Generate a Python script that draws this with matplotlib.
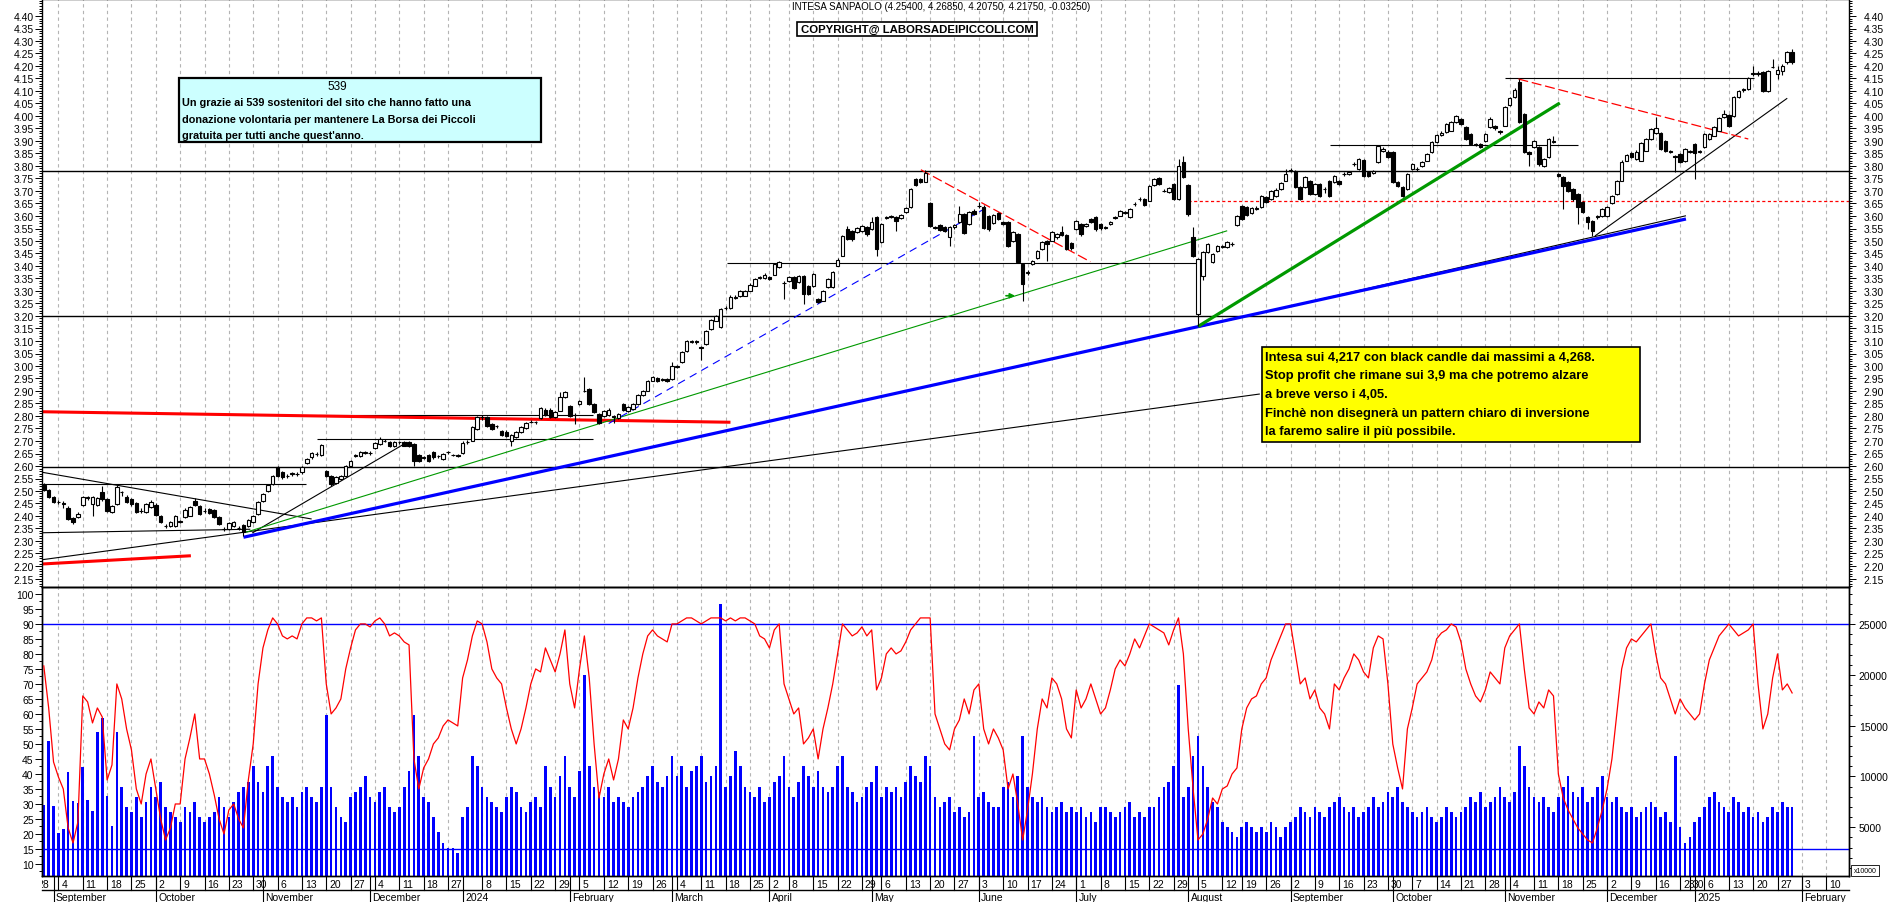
import numpy as np
import pandas as pd
import matplotlib
matplotlib.use("Agg")
import matplotlib.pyplot as plt
import matplotlib.transforms as mtrans
from matplotlib.patches import Rectangle

plt.rcParams['font.family'] = ['Liberation Sans', 'DejaVu Sans']

W, H, DPI = 1890, 903, 100

# ---------------- calendar (Borsa Italiana trading days) ----------------
holidays = pd.to_datetime(["2023-12-25", "2023-12-26", "2024-01-01", "2024-03-29", "2024-04-01",
                           "2024-05-01", "2024-08-15", "2024-12-24", "2024-12-25", "2024-12-26",
                           "2024-12-31", "2025-01-01"])
cal = pd.bdate_range("2023-08-21", "2025-02-28")
cal = cal[~cal.isin(holidays)]
i_anchor = cal.get_loc(pd.Timestamp("2023-09-04"))
cal_idx = np.arange(len(cal)) - i_anchor

# ---------------- price data (30 Aug 2023 .. 30 Jan 2025) ----------------
opens = [2.525, 2.504, 2.475,
 2.456, 2.45, 2.432, 2.392, 2.395, 2.444, 2.472, 2.448, 2.445, 2.495,
 2.468, 2.415, 2.448, 2.497, 2.477, 2.468, 2.452, 2.42, 2.415, 2.435,
 2.445, 2.401, 2.362, 2.361, 2.361, 2.378, 2.395, 2.401, 2.461, 2.441,
 2.42, 2.428, 2.424, 2.395, 2.35, 2.348, 2.361, 2.353, 2.364, 2.361,
 2.375, 2.408, 2.461, 2.499, 2.528, 2.595, 2.577, 2.56, 2.57, 2.569,
 2.575, 2.612, 2.635, 2.647, 2.644, 2.581, 2.561, 2.532, 2.548, 2.561,
 2.599, 2.642, 2.641, 2.654, 2.653, 2.671, 2.688, 2.70, 2.697, 2.679,
 2.694, 2.695, 2.695, 2.688, 2.644, 2.634, 2.644, 2.657, 2.64, 2.628,
 2.656, 2.645, 2.642, 2.652, 2.694, 2.701, 2.748, 2.794, 2.795, 2.768,
 2.76, 2.741, 2.737, 2.701, 2.715, 2.735, 2.751, 2.776, 2.774, 2.791,
 2.825, 2.825, 2.795, 2.821, 2.875, 2.839, 2.805, 2.848, 2.90, 2.908,
 2.848, 2.808, 2.799, 2.804, 2.80, 2.791, 2.848, 2.821, 2.828, 2.848,
 2.884, 2.901, 2.941, 2.951, 2.946, 2.948, 2.948, 2.998, 3.017, 3.061,
 3.098, 3.099, 3.075, 3.088, 3.148, 3.181, 3.155, 3.231, 3.232, 3.274,
 3.279, 3.281, 3.301, 3.321, 3.354, 3.352, 3.355, 3.365, 3.395, 3.333,
 3.341, 3.355, 3.335, 3.361, 3.321, 3.319, 3.268, 3.261, 3.315, 3.315,
 3.401, 3.441, 3.548, 3.541, 3.537, 3.541, 3.557, 3.548, 3.595, 3.495,
 3.594, 3.598, 3.595, 3.591, 3.615, 3.635, 3.748, 3.748, 3.737, 3.651,
 3.554, 3.564, 3.555, 3.515, 3.555, 3.577, 3.608, 3.568, 3.621, 3.64,
 3.637, 3.601, 3.572, 3.611, 3.575, 3.575, 3.501, 3.528, 3.408, 3.374,
 3.408, 3.431, 3.468, 3.501, 3.501, 3.515, 3.537, 3.524, 3.491, 3.548,
 3.568, 3.559, 3.588, 3.595, 3.568, 3.554, 3.568, 3.594, 3.601, 3.614,
 3.595, 3.647, 3.667, 3.668, 3.661, 3.724, 3.751, 3.70, 3.697, 3.728,
 3.668, 3.815, 3.724, 3.515, 3.208, 3.361, 3.455, 3.415, 3.461, 3.477,
 3.475, 3.487, 3.564, 3.639, 3.635, 3.612, 3.63, 3.635, 3.675, 3.668,
 3.68, 3.708, 3.741, 3.781, 3.781, 3.715, 3.715, 3.741, 3.688, 3.728,
 3.707, 3.741, 3.735, 3.741, 3.767, 3.768, 3.807, 3.788, 3.824, 3.775,
 3.772, 3.815, 3.861, 3.857, 3.855, 3.735, 3.715, 3.708, 3.788, 3.787,
 3.801, 3.821, 3.855, 3.895, 3.924, 3.935, 3.941, 3.975, 3.988, 3.955,
 3.928, 3.888, 3.888, 3.901, 3.955, 3.961, 3.941, 3.961, 4.044, 4.075,
 4.135, 4.008, 3.855, 3.875, 3.875, 3.801, 3.835, 3.897, 3.768, 3.755,
 3.735, 3.708, 3.688, 3.655, 3.595, 3.581, 3.601, 3.601, 3.601, 3.652,
 3.688, 3.741, 3.821, 3.852, 3.828, 3.821, 3.861, 3.908, 3.932, 3.932,
 3.901, 3.858, 3.839, 3.848, 3.821, 3.857, 3.888, 3.857, 3.875, 3.908,
 3.921, 3.941, 3.995, 4.004, 4.001, 4.075, 4.104, 4.108, 4.169, 4.17,
 4.175, 4.101, 4.196, 4.168, 4.181, 4.215, 4.254]

closes = [2.505, 2.475, 2.455,
 2.455, 2.448, 2.388, 2.377, 2.41, 2.477, 2.475, 2.475, 2.47, 2.468,
 2.421, 2.441, 2.515, 2.495, 2.455, 2.448, 2.415, 2.421, 2.448, 2.457,
 2.405, 2.375, 2.36, 2.377, 2.401, 2.377, 2.424, 2.435, 2.444, 2.408,
 2.421, 2.412, 2.395, 2.368, 2.348, 2.371, 2.377, 2.352, 2.335, 2.384,
 2.401, 2.457, 2.488, 2.525, 2.561, 2.561, 2.555, 2.561, 2.571, 2.568,
 2.597, 2.628, 2.652, 2.648, 2.684, 2.561, 2.528, 2.555, 2.561, 2.601,
 2.621, 2.645, 2.655, 2.655, 2.652, 2.691, 2.708, 2.701, 2.679, 2.695,
 2.695, 2.681, 2.679, 2.621, 2.621, 2.635, 2.621, 2.635, 2.639, 2.648,
 2.657, 2.644, 2.641, 2.692, 2.695, 2.755, 2.795, 2.795, 2.761, 2.748,
 2.759, 2.724, 2.721, 2.724, 2.735, 2.755, 2.771, 2.777, 2.775, 2.831,
 2.804, 2.795, 2.815, 2.875, 2.895, 2.801, 2.804, 2.861, 2.901, 2.848,
 2.815, 2.772, 2.821, 2.825, 2.795, 2.808, 2.825, 2.835, 2.848, 2.884,
 2.901, 2.941, 2.955, 2.941, 2.945, 2.941, 3.001, 2.999, 3.057, 3.101,
 3.099, 3.098, 3.074, 3.141, 3.184, 3.201, 3.228, 3.232, 3.277, 3.275,
 3.301, 3.301, 3.325, 3.348, 3.355, 3.365, 3.348, 3.408, 3.415, 3.332,
 3.355, 3.312, 3.361, 3.288, 3.288, 3.368, 3.255, 3.301, 3.348, 3.377,
 3.425, 3.521, 3.508, 3.508, 3.551, 3.561, 3.528, 3.575, 3.468, 3.568,
 3.595, 3.599, 3.581, 3.604, 3.631, 3.708, 3.724, 3.735, 3.772, 3.561,
 3.555, 3.545, 3.541, 3.555, 3.564, 3.608, 3.532, 3.615, 3.608, 3.641,
 3.552, 3.548, 3.604, 3.588, 3.568, 3.481, 3.537, 3.415, 3.328, 3.375,
 3.421, 3.461, 3.495, 3.488, 3.535, 3.528, 3.524, 3.468, 3.471, 3.581,
 3.528, 3.568, 3.575, 3.548, 3.551, 3.555, 3.575, 3.595, 3.621, 3.615,
 3.628, 3.648, 3.668, 3.644, 3.721, 3.748, 3.728, 3.701, 3.711, 3.668,
 3.799, 3.755, 3.608, 3.441, 3.428, 3.455, 3.488, 3.448, 3.481, 3.478,
 3.495, 3.488, 3.601, 3.588, 3.604, 3.631, 3.631, 3.679, 3.657, 3.701,
 3.705, 3.732, 3.768, 3.782, 3.715, 3.668, 3.755, 3.688, 3.728, 3.681,
 3.708, 3.681, 3.761, 3.728, 3.768, 3.775, 3.808, 3.828, 3.761, 3.761,
 3.781, 3.881, 3.868, 3.835, 3.735, 3.721, 3.681, 3.768, 3.808, 3.788,
 3.815, 3.848, 3.895, 3.924, 3.932, 3.968, 3.975, 4.001, 3.968, 3.908,
 3.888, 3.884, 3.875, 3.928, 3.988, 3.951, 3.935, 4.035, 4.071, 4.105,
 3.975, 3.857, 3.848, 3.901, 3.808, 3.828, 3.908, 3.898, 3.761, 3.721,
 3.701, 3.668, 3.635, 3.615, 3.575, 3.541, 3.595, 3.628, 3.635, 3.681,
 3.741, 3.817, 3.844, 3.835, 3.857, 3.892, 3.908, 3.948, 3.951, 3.868,
 3.861, 3.857, 3.838, 3.817, 3.868, 3.858, 3.852, 3.858, 3.928, 3.928,
 3.955, 3.991, 4.008, 3.961, 4.075, 4.101, 4.108, 4.151, 4.171, 4.171,
 4.101, 4.181, 4.197, 4.184, 4.199, 4.255, 4.2175]

highs = [2.532, 2.51, 2.48,
 2.462, 2.458, 2.44, 2.395, 2.415, 2.48, 2.48, 2.478, 2.475, 2.52,
 2.47, 2.445, 2.524, 2.50, 2.482, 2.472, 2.455, 2.43, 2.452, 2.462,
 2.45, 2.405, 2.368, 2.38, 2.405, 2.385, 2.43, 2.44, 2.47, 2.445,
 2.43, 2.432, 2.428, 2.40, 2.356, 2.375, 2.38, 2.36, 2.368, 2.388,
 2.405, 2.46, 2.492, 2.53, 2.565, 2.601, 2.582, 2.568, 2.578, 2.575,
 2.60, 2.632, 2.656, 2.655, 2.688, 2.585, 2.565, 2.56, 2.565, 2.605,
 2.625, 2.65, 2.66, 2.662, 2.66, 2.695, 2.715, 2.708, 2.70, 2.70,
 2.70, 2.70, 2.70, 2.692, 2.648, 2.642, 2.65, 2.662, 2.645, 2.652,
 2.662, 2.65, 2.648, 2.698, 2.702, 2.76, 2.80, 2.803, 2.80, 2.772,
 2.765, 2.745, 2.742, 2.728, 2.74, 2.76, 2.775, 2.782, 2.78, 2.835,
 2.83, 2.83, 2.82, 2.895, 2.90, 2.845, 2.81, 2.865, 2.955, 2.912,
 2.852, 2.812, 2.825, 2.83, 2.805, 2.812, 2.852, 2.84, 2.852, 2.888,
 2.905, 2.945, 2.96, 2.955, 2.95, 2.952, 3.018, 3.005, 3.062, 3.105,
 3.105, 3.104, 3.08, 3.145, 3.188, 3.205, 3.232, 3.238, 3.282, 3.282,
 3.305, 3.305, 3.33, 3.352, 3.36, 3.37, 3.36, 3.412, 3.421, 3.34,
 3.36, 3.36, 3.365, 3.365, 3.325, 3.372, 3.272, 3.305, 3.352, 3.38,
 3.43, 3.525, 3.561, 3.545, 3.555, 3.565, 3.56, 3.595, 3.60, 3.572,
 3.60, 3.605, 3.60, 3.608, 3.635, 3.712, 3.752, 3.752, 3.784, 3.655,
 3.56, 3.568, 3.56, 3.56, 3.568, 3.641, 3.612, 3.62, 3.628, 3.655,
 3.642, 3.605, 3.608, 3.615, 3.58, 3.58, 3.542, 3.532, 3.412, 3.385,
 3.425, 3.465, 3.50, 3.505, 3.54, 3.532, 3.559, 3.528, 3.495, 3.585,
 3.572, 3.572, 3.592, 3.60, 3.572, 3.56, 3.58, 3.60, 3.625, 3.62,
 3.632, 3.655, 3.675, 3.672, 3.725, 3.752, 3.755, 3.708, 3.715, 3.732,
 3.828, 3.841, 3.728, 3.555, 3.432, 3.46, 3.492, 3.452, 3.485, 3.485,
 3.50, 3.495, 3.605, 3.645, 3.64, 3.635, 3.638, 3.683, 3.68, 3.705,
 3.71, 3.736, 3.788, 3.79, 3.785, 3.72, 3.76, 3.745, 3.732, 3.732,
 3.715, 3.745, 3.765, 3.745, 3.775, 3.78, 3.815, 3.832, 3.828, 3.78,
 3.785, 3.885, 3.875, 3.862, 3.86, 3.74, 3.72, 3.772, 3.812, 3.795,
 3.82, 3.852, 3.90, 3.928, 3.938, 3.972, 3.98, 4.005, 3.992, 3.96,
 3.932, 3.89, 3.892, 3.932, 3.995, 3.965, 3.945, 4.04, 4.075, 4.11,
 4.148, 4.012, 3.86, 3.905, 3.88, 3.832, 3.912, 3.92, 3.772, 3.76,
 3.74, 3.712, 3.692, 3.66, 3.60, 3.585, 3.605, 3.632, 3.64, 3.685,
 3.745, 3.822, 3.848, 3.856, 3.862, 3.896, 3.912, 3.952, 3.995, 3.936,
 3.905, 3.865, 3.845, 3.852, 3.872, 3.865, 3.892, 3.865, 3.932, 3.932,
 3.96, 3.995, 4.025, 4.008, 4.08, 4.105, 4.112, 4.155, 4.20, 4.18,
 4.18, 4.185, 4.228, 4.198, 4.21, 4.26, 4.2685]

lows = [2.50, 2.47, 2.45,
 2.447, 2.43, 2.385, 2.368, 2.39, 2.44, 2.465, 2.40, 2.44, 2.46,
 2.415, 2.41, 2.445, 2.48, 2.45, 2.44, 2.41, 2.412, 2.41, 2.43,
 2.40, 2.37, 2.352, 2.355, 2.355, 2.37, 2.39, 2.398, 2.44, 2.405,
 2.41, 2.408, 2.39, 2.362, 2.34, 2.345, 2.356, 2.345, 2.321, 2.355,
 2.37, 2.405, 2.455, 2.495, 2.525, 2.555, 2.55, 2.552, 2.562, 2.56,
 2.57, 2.608, 2.63, 2.64, 2.64, 2.555, 2.52, 2.528, 2.545, 2.555,
 2.595, 2.635, 2.638, 2.648, 2.645, 2.668, 2.685, 2.695, 2.675, 2.675,
 2.688, 2.678, 2.675, 2.601, 2.615, 2.628, 2.618, 2.63, 2.632, 2.625,
 2.65, 2.64, 2.636, 2.648, 2.688, 2.698, 2.745, 2.785, 2.755, 2.742,
 2.75, 2.72, 2.716, 2.681, 2.71, 2.73, 2.748, 2.77, 2.768, 2.788,
 2.80, 2.79, 2.79, 2.818, 2.87, 2.795, 2.768, 2.845, 2.895, 2.842,
 2.81, 2.768, 2.795, 2.80, 2.77, 2.788, 2.82, 2.815, 2.825, 2.845,
 2.88, 2.898, 2.938, 2.935, 2.94, 2.936, 2.945, 2.99, 3.012, 3.058,
 3.092, 3.09, 3.025, 3.085, 3.145, 3.178, 3.15, 3.225, 3.228, 3.268,
 3.275, 3.278, 3.298, 3.318, 3.348, 3.348, 3.345, 3.362, 3.39, 3.268,
 3.335, 3.308, 3.33, 3.248, 3.282, 3.315, 3.25, 3.258, 3.31, 3.31,
 3.398, 3.438, 3.505, 3.502, 3.532, 3.538, 3.522, 3.545, 3.441, 3.49,
 3.588, 3.59, 3.541, 3.588, 3.612, 3.632, 3.72, 3.73, 3.735, 3.555,
 3.548, 3.54, 3.535, 3.481, 3.55, 3.572, 3.528, 3.562, 3.602, 3.632,
 3.548, 3.542, 3.568, 3.582, 3.562, 3.475, 3.495, 3.41, 3.261, 3.365,
 3.402, 3.428, 3.465, 3.421, 3.498, 3.51, 3.52, 3.462, 3.465, 3.545,
 3.522, 3.555, 3.57, 3.542, 3.545, 3.548, 3.562, 3.588, 3.598, 3.608,
 3.59, 3.64, 3.66, 3.64, 3.658, 3.72, 3.724, 3.694, 3.692, 3.662,
 3.665, 3.75, 3.60, 3.435, 3.161, 3.345, 3.45, 3.41, 3.455, 3.47,
 3.47, 3.48, 3.56, 3.582, 3.60, 3.608, 3.624, 3.632, 3.652, 3.665,
 3.675, 3.705, 3.738, 3.775, 3.71, 3.662, 3.71, 3.682, 3.682, 3.675,
 3.69, 3.675, 3.73, 3.722, 3.76, 3.765, 3.80, 3.785, 3.755, 3.755,
 3.768, 3.81, 3.855, 3.83, 3.73, 3.715, 3.675, 3.702, 3.785, 3.78,
 3.795, 3.818, 3.852, 3.89, 3.92, 3.93, 3.938, 3.97, 3.962, 3.902,
 3.882, 3.878, 3.87, 3.896, 3.95, 3.945, 3.928, 3.958, 4.04, 4.07,
 3.97, 3.85, 3.80, 3.87, 3.80, 3.795, 3.83, 3.89, 3.755, 3.628,
 3.695, 3.66, 3.568, 3.61, 3.55, 3.52, 3.588, 3.595, 3.595, 3.648,
 3.682, 3.738, 3.818, 3.83, 3.825, 3.818, 3.858, 3.905, 3.928, 3.862,
 3.855, 3.85, 3.775, 3.81, 3.815, 3.85, 3.748, 3.85, 3.87, 3.905,
 3.918, 3.938, 3.99, 3.955, 3.995, 4.07, 4.095, 4.105, 4.162, 4.162,
 4.095, 4.095, 4.19, 4.148, 4.165, 4.21, 4.2075]

# ---------------- oscillator (red) per month ----------------
osc_2023_08 = [76, 62]
osc_2023_09 = [44, 39, 35, 22, 17, 24, 66, 64, 57, 62, 59, 38, 43, 70, 65, 55, 48, 35, 30, 40, 45]
osc_2023_10 = [35, 25, 18, 22, 30, 30, 45, 52, 60, 45, 45, 40, 33, 25, 20, 28, 30, 25, 22, 38, 50, 70]
osc_2023_11 = [82, 88, 92, 90, 86, 85, 86, 85, 90, 92, 92, 91, 92, 70, 60, 62, 65, 75, 82, 88, 90, 90]
osc_2023_12 = [89, 91, 92, 90, 86, 87, 86, 84, 83, 45, 35, 42, 45, 50, 52, 56, 58, 57, 56]
osc_2024_01 = [72, 78, 86, 91, 90, 84, 75, 72, 70, 62, 55, 50, 55, 62, 70, 75, 74, 82, 78, 74, 80, 88]
osc_2024_02 = [70, 62, 75, 86, 72, 50, 32, 40, 45, 38, 45, 58, 55, 62, 72, 80, 86, 88, 86, 85, 84]
osc_2024_03 = [90, 90, 91, 92, 92, 91, 90, 91, 92, 92, 92, 91, 92, 91, 92, 92, 91, 90, 86, 85]
osc_2024_04 = [82, 88, 90, 70, 65, 60, 62, 50, 52, 55, 45, 55, 62, 70, 80, 90, 88, 86, 87, 89, 86]
osc_2024_05 = [88, 68, 72, 80, 82, 80, 81, 84, 88, 90, 92, 92, 92, 60, 55, 50, 48, 55, 58, 65, 60, 68]
osc_2024_06 = [70, 55, 50, 55, 52, 48, 35, 40, 30, 18, 28, 40, 55, 65, 62, 72, 70, 65, 55, 52]
osc_2024_07 = [68, 62, 65, 70, 65, 60, 62, 68, 75, 78, 76, 80, 85, 82, 86, 90, 89, 88, 87, 83, 88, 92, 80]
osc_2024_08 = [55, 35, 18, 20, 25, 32, 30, 35, 36, 40, 42, 55, 62, 65, 66, 70, 72, 78, 82, 86, 90]
osc_2024_09 = [90, 80, 70, 72, 65, 68, 62, 60, 55, 70, 68, 72, 75, 80, 78, 74, 72, 82, 86, 85, 70]
osc_2024_10 = [50, 42, 35, 55, 62, 70, 72, 74, 78, 85, 87, 88, 90, 89, 84, 75, 70, 66, 64, 68, 74, 72, 70]
osc_2024_11 = [82, 86, 88, 90, 75, 62, 60, 64, 62, 68, 66, 40, 32, 28, 25, 22, 20, 18, 17, 22, 28]
osc_2024_12 = [35, 45, 60, 75, 82, 85, 84, 86, 88, 90, 80, 72, 70, 65, 60, 65, 62, 60]
osc_2025_01 = [58, 60, 70, 78, 82, 86, 88, 90, 88, 86, 87, 88, 90, 70, 55, 60, 72, 80, 68, 70, 67]

# ---------------- volume (x10000) per month ----------------
vol_2023_08 = [7200, 13500]
vol_2023_09 = [7100, 4400, 4800, 10400, 7600, 7400, 10900, 7700, 6600, 14400, 15800, 8100, 5100, 14400, 9000, 7000, 6500, 8000, 6000, 7500, 9000]
vol_2023_10 = [8000, 9500, 7000, 6500, 6000, 5500, 7000, 6500, 7500, 6000, 5500, 6000, 6500, 8000, 7000, 6000, 7500, 8500, 9000, 9500, 11000, 9500]
vol_2023_11 = [8500, 11000, 12000, 9000, 8000, 7500, 8000, 7000, 8500, 9000, 8000, 7500, 9000, 16000, 9000, 7000, 6000, 5500, 8000, 8500, 9000, 10000]
vol_2023_12 = [8000, 7500, 8500, 9000, 7000, 6500, 7000, 9000, 10500, 16000, 12000, 8000, 7500, 6000, 4500, 3500, 3000, 3000, 2500]
vol_2024_01 = [6000, 7000, 12000, 11000, 9000, 8000, 7500, 7000, 6500, 8000, 9000, 8500, 7000, 6500, 7500, 8000, 7000, 11000, 9000, 8000, 10000, 12000]
vol_2024_02 = [9000, 8000, 10500, 20000, 11000, 9000, 8500, 8000, 9000, 7500, 8000, 7500, 7000, 8000, 8500, 9000, 10000, 11000, 9500, 9000, 10000]
vol_2024_03 = [12000, 10000, 11000, 9000, 10500, 11000, 12000, 9500, 10000, 11000, 27000, 9000, 10000, 12500, 11000, 9000, 8500, 8000, 9000, 7500]
vol_2024_04 = [8000, 9500, 10000, 12000, 9000, 8000, 9500, 11000, 10000, 9000, 10500, 9000, 8500, 9000, 11000, 12000, 9000, 8500, 7500, 8000, 9000]
vol_2024_05 = [9500, 11000, 8000, 9000, 8500, 9000, 8000, 9500, 11000, 10000, 9500, 12000, 11000, 8000, 7000, 7500, 8000, 6500, 7000, 6000, 6500, 14000]
vol_2024_06 = [8000, 8500, 7500, 7000, 7000, 9000, 9500, 8000, 10000, 14000, 9000, 8000, 7500, 8000, 7000, 6500, 7000, 7500, 6500, 7000]
vol_2024_07 = [6500, 7000, 6000, 6500, 5500, 7000, 7000, 6500, 6000, 6500, 7000, 7500, 6000, 6500, 6000, 7000, 7000, 8000, 9000, 9500, 11000, 19000, 8000]
vol_2024_08 = [9000, 12000, 14000, 11000, 9000, 7500, 7000, 5500, 5000, 4500, 4000, 5000, 5500, 5000, 4500, 5000, 4500, 5500, 5000, 4000, 5000]
vol_2024_09 = [5500, 6000, 7000, 6500, 6000, 7000, 6500, 6000, 7000, 7500, 8000, 7000, 6500, 7000, 6000, 6500, 7000, 8000, 7000, 7500, 8500]
vol_2024_10 = [8000, 9000, 7500, 7000, 6500, 6000, 6500, 7000, 6000, 5500, 6000, 7000, 6500, 6000, 6500, 7000, 8000, 7500, 8500, 7000, 7500, 8000, 9000]
vol_2024_11 = [8000, 7500, 8500, 13000, 11000, 9000, 8000, 7500, 8000, 7000, 6500, 8000, 9000, 10000, 8500, 8000, 9000, 7500, 8000, 9000, 10000]
vol_2024_12 = [8000, 7500, 8000, 7000, 6500, 7000, 6000, 6500, 7000, 7500, 7000, 6000, 6500, 5500, 12000, 5000, 3500, 4000]
vol_2025_01 = [5500, 6000, 7000, 8000, 8500, 7500, 7000, 6500, 8000, 7500, 6500, 7000, 6000, 6500, 5500, 6000, 7000, 6500, 7500, 7000, 7000]

osc = sum([osc_2023_08, osc_2023_09, osc_2023_10, osc_2023_11, osc_2023_12, osc_2024_01, osc_2024_02,
           osc_2024_03, osc_2024_04, osc_2024_05, osc_2024_06, osc_2024_07, osc_2024_08, osc_2024_09,
           osc_2024_10, osc_2024_11, osc_2024_12, osc_2025_01], [])
vol = sum([vol_2023_08, vol_2023_09, vol_2023_10, vol_2023_11, vol_2023_12, vol_2024_01, vol_2024_02,
           vol_2024_03, vol_2024_04, vol_2024_05, vol_2024_06, vol_2024_07, vol_2024_08, vol_2024_09,
           vol_2024_10, vol_2024_11, vol_2024_12, vol_2025_01], [])

# ---------------- trend lines drawn by the analyst (day index, price) ----------------
XL, XR = -3.37, 367.68
full_hlines = [3.781, 3.199, 2.596]
black_thin = [(XL, 2.528, 50.9, 2.528), (XL, 2.575, 52.0, 2.388), (XL, 2.333, 39.4, 2.347),
              (XL, 2.225, 246.7, 2.888), (39.8, 2.332, 71.6, 2.695), (53.0, 2.708, 109.8, 2.708),
              (53.6, 2.804, 109.8, 2.804), (137.2, 3.413, 233.8, 3.413), (261.2, 3.883, 312.0, 3.883),
              (297.1, 4.151, 348.1, 4.151), (234.0, 3.155, 334.2, 3.601), (315.5, 3.52, 355.0, 4.071)]
red_thick = [(XL, 2.208, 27.2, 2.241), (XL, 2.817, 138.0, 2.775)]
blue_thick = [(38.0, 2.315, 334.2, 3.588)]
green_thick = [(234.0, 3.158, 308.3, 4.052)]
green_thin = [(38.5, 2.335, 240.0, 3.541)]
red_dashed = [(177.1, 3.785, 211.9, 3.417), (299.8, 4.148, 347.0, 3.908)]
blue_dashed = [(113.0, 2.77, 190.1, 3.628)]
red_dotted = [(232.0, 3.66, XR, 3.66)]

# axis label exceptions seen in the reference
skip_week_label = [pd.Timestamp("2024-01-02")]
skip_grid = [pd.Timestamp("2024-01-02"), pd.Timestamp("2024-12-30")]

# ---------------- figure ----------------
fig = plt.figure(figsize=(W / DPI, H / DPI), dpi=DPI)

def rect(x0, y0, x1, y1):
    return [x0 / W, 1 - y1 / H, (x1 - x0) / W, (y1 - y0) / H]

ax = fig.add_axes(rect(42, 0, 1849, 588))
axo = fig.add_axes(rect(42, 588, 1849, 877))
axv = axo.twinx()
axd = fig.add_axes(rect(42, 877, 1849, 903))

x = np.arange(-3, -3 + len(closes))
o = np.array(opens); c = np.array(closes); hh = np.array(highs); ll = np.array(lows)

# week / month starts
vis = (cal_idx >= -7) & (cal_idx <= 369)
vdays = cal[vis]; vidx = cal_idx[vis]
iso = vdays.isocalendar()
wkkey = (iso['year'].values * 100 + iso['week'].values)
week_starts = [k for k in range(len(vdays)) if k == 0 or wkkey[k] != wkkey[k - 1]]
month_starts = [k for k in range(1, len(vdays)) if vdays[k].month != vdays[k - 1].month]

gcol = '#b4b4b4'
for k in week_starts:
    if vdays[k] in skip_grid:
        continue
    for a in (ax, axv):
        a.axvline(vidx[k], color=gcol, lw=0.8, ls=(0, (3, 3)), zorder=0)

# horizontal lines & trend lines
for p in full_hlines:
    ax.axhline(p, color='black', lw=1.0, zorder=2)
def seg(a, lst, **kw):
    for (x0, y0, x1, y1) in lst:
        a.plot([x0, x1], [y0, y1], solid_capstyle='butt', **kw)
seg(ax, black_thin, color='black', lw=0.8, zorder=2)
seg(ax, red_thick, color='#ff0000', lw=2.2, zorder=2)
seg(ax, green_thin, color='#009900', lw=0.8, zorder=2)
seg(ax, blue_dashed, color='#0000ff', lw=0.8, ls=(0, (7, 5)), zorder=2)
seg(ax, red_dashed, color='#ff0000', lw=0.9, ls=(0, (8, 3)), zorder=2)
seg(ax, red_dotted, color='#ff0000', lw=0.9, ls=(0, (2.5, 2)), zorder=2)
seg(ax, blue_thick, color='#0000ff', lw=2.3, zorder=2.5)
seg(ax, green_thick, color='#009900', lw=2.3, zorder=2.5)
ax.annotate('', xy=(197.0, 3.281), xytext=(194.0, 3.281),
            arrowprops=dict(arrowstyle='-|>', color='#009900', lw=1.2, mutation_scale=7), zorder=3)

# candles
up = c >= o
blo = np.minimum(o, c); bhi = np.maximum(o, c)
bh = np.maximum(bhi - blo, 0.0015)
ax.vlines(x, ll, hh, color='black', lw=0.8, zorder=3)
ax.bar(x[up], bh[up], bottom=blo[up], width=0.72, facecolor='white', edgecolor='black', lw=0.8, zorder=4)
ax.bar(x[~up], bh[~up], bottom=blo[~up], width=0.72, facecolor='black', edgecolor='black', lw=0.8, zorder=4)

ax.set_xlim(XL, XR)
ax.set_ylim(2.116, 4.468)
yt = np.round(np.arange(2.15, 4.401, 0.05), 2)
ax.set_yticks(yt)
ax.set_yticklabels(['%.2f' % v for v in yt])
ax.set_yticks(np.round(np.arange(2.12, 4.47, 0.01), 2), minor=True)
ax.tick_params(axis='y', which='both', left=True, right=True, labelleft=True, labelright=True,
               direction='out', labelsize=7.5, width=0.7)
ax.tick_params(axis='y', which='major', length=5, pad=1)
ax.tick_params(axis='y', which='minor', length=2.5)
ax.tick_params(axis='x', which='both', bottom=False, top=False, labelbottom=False)
for s in ax.spines.values():
    s.set_linewidth(1.0)
for t in ax.yaxis.get_major_ticks():
    t.label2.set_transform(t.label2.get_transform() + mtrans.ScaledTranslation(6 / DPI, 0, fig.dpi_scale_trans))

# lower panel
axv.bar(x, vol, width=0.55, color='#0000ff', zorder=2)
axv.set_ylim(207, 28642)
axv.set_yticks([5000, 10000, 15000, 20000, 25000])
axv.set_yticks(np.arange(1000, 28001, 1000), minor=True)
axv.tick_params(axis='y', which='both', direction='out', labelsize=7.5, width=0.7)
axv.tick_params(axis='y', which='major', length=4, pad=3)
axv.tick_params(axis='y', which='minor', length=2)

axo.set_zorder(axv.get_zorder() + 1)
axo.patch.set_visible(False)
axo.plot(x, osc, color='#ff0000', lw=0.9, zorder=3)
axo.axhline(90, color='#0000ff', lw=1.0, zorder=2)
axo.axhline(15, color='#0000ff', lw=1.0, zorder=2)
axo.set_ylim(6.0, 102.3)
axo.set_yticks(np.arange(10, 101, 5))
axo.set_yticks(np.arange(7.5, 102, 2.5), minor=True)
axo.tick_params(axis='y', which='both', direction='out', labelsize=7.5, width=0.7)
axo.tick_params(axis='y', which='major', length=5, pad=1)
axo.tick_params(axis='y', which='minor', length=2.5)
for a in (axo, axv):
    a.set_xlim(XL, XR)
    a.tick_params(axis='x', which='both', bottom=False, top=False, labelbottom=False)
    for s in a.spines.values():
        s.set_linewidth(1.0)

# date rows
axd.set_xlim(XL, XR)
axd.set_ylim(26, 0)
axd.axis('off')
axd.plot([XL, XR], [14, 14], color='black', lw=1.0, clip_on=False)
for k in week_starts:
    if vdays[k] in skip_week_label:
        continue
    xi = vidx[k]
    if XL - 3 < xi < XR:
        if xi > XL:
            axd.plot([xi, xi], [0, 14], color='black', lw=0.8)
        axd.text(xi + 0.6, 7.6, str(vdays[k].day), fontsize=7.5, ha='left', va='center', clip_on=True)
mnames = {2: 'February', 3: 'March', 4: 'April', 5: 'May', 6: 'June', 7: 'July', 8: 'August',
          9: 'September', 10: 'October', 11: 'November', 12: 'December'}
for k in month_starts:
    xi = vidx[k]
    if XL < xi < XR:
        axd.plot([xi, xi], [0, 26], color='black', lw=0.8)
        d = vdays[k]
        name = str(d.year) if d.month == 1 else mnames[d.month]
        axd.text(xi + 0.5, 20.8, name, fontsize=7.5, ha='left', va='center', clip_on=True)

# ---------------- texts and boxes ----------------
def px_rect(x0, y0, x1, y1, **kw):
    fig.patches.append(Rectangle((x0 / W, 1 - y1 / H), (x1 - x0) / W, (y1 - y0) / H,
                                 transform=fig.transFigure, zorder=5, **kw))

def px_text(xp, yp, s, **kw):
    fig.text(xp / W, 1 - yp / H, s, zorder=6, **kw)

px_text(792, 7.5, "INTESA SANPAOLO (4.25400, 4.26850, 4.20750, 4.21750, -0.03250)", fontsize=7,
        ha='left', va='center', family=['Liberation Sans Narrow', 'Liberation Sans', 'DejaVu Sans'])
px_rect(797, 22.5, 1037, 36.5, facecolor='white', edgecolor='black', lw=1.2)
px_text(917, 29.8, "COPYRIGHT@ LABORSADEIPICCOLI.COM", fontsize=8.2, weight='bold', ha='center', va='center')

px_rect(179, 79, 541, 143, facecolor='#ccffff', edgecolor='black', lw=1.6)
px_text(337, 86.5, "539", fontsize=8.5, ha='center', va='center')
cyan_lines = ["Un grazie ai 539 sostenitori del sito che hanno fatto una",
              "donazione volontaria per mantenere La Borsa dei Piccoli",
              "gratuita per tutti anche quest'anno."]
for k, s in enumerate(cyan_lines):
    px_text(182, 103.3 + 16.3 * k, s, fontsize=7.8, weight='bold', ha='left', va='center')

px_rect(1262, 348, 1640, 443, facecolor='#ffff00', edgecolor='black', lw=1.2)
yellow_lines = ["Intesa sui 4,217 con black candle dai massimi a 4,268.",
                "Stop profit che rimane sui 3,9 ma che potremo alzare",
                "a breve verso i 4,05.",
                "Finchè non disegnerà un pattern chiaro di inversione",
                "la faremo salire il più possibile."]
for k, s in enumerate(yellow_lines):
    px_text(1265, 357.7 + 18.7 * k, s, fontsize=9.3, weight='bold', ha='left', va='center')

px_rect(1851, 866, 1879, 877, facecolor='white', edgecolor='black', lw=0.6)
px_text(1865, 871.5, "x10000", fontsize=5, ha='center', va='center')

fig.savefig("out.png", dpi=DPI)
